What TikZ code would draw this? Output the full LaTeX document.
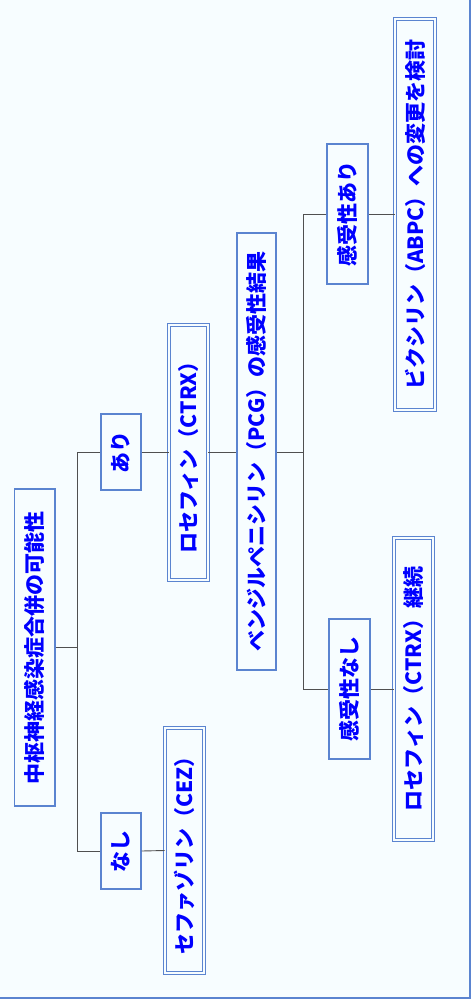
\documentclass[tikz,border=0pt]{standalone}
\usepackage{graphicx}
\usepackage{fontspec}
\setmainfont{Noto Sans CJK JP}
\definecolor{bg}{RGB}{247,253,255}
\definecolor{boxblue}{RGB}{91,132,208}
\definecolor{txtblue}{RGB}{0,0,255}
\definecolor{linegray}{RGB}{80,80,80}
\begin{document}
\begin{tikzpicture}[x=1pt,y=-1pt,
  box/.style={draw=boxblue, line width=1.1pt, fill=bg, inner sep=0pt, text=txtblue,
    font=\bfseries\fontsize{21}{25}\selectfont},
  dbox/.style={box, double=bg, double distance=2pt, line width=0.9pt},
  conn/.style={draw=linegray, line width=0.9pt}]
\useasboundingbox (0,0) rectangle (472,1001);
\fill[white] (0,0) rectangle (472,1001);
\fill[bg] (-10,-10) rectangle (470,998);
\draw[boxblue, line width=2pt] (-10,-10) rectangle (470,998);

\node[box, minimum width=40.5pt, minimum height=317pt] (root) at (34.75,647.5) {\rotatebox{90}{中枢神経感染症合併の可能性}};
\node[box, minimum width=40pt, minimum height=76pt] (nasi) at (121,851) {\rotatebox{90}{なし}};
\node[dbox, minimum width=39pt, minimum height=245pt] (cez) at (184.5,850.5) {\rotatebox{90}{セファゾリン（CEZ）}};
\node[box, minimum width=40pt, minimum height=76pt] (ari) at (121,452) {\rotatebox{90}{あり}};
\node[dbox, minimum width=39pt, minimum height=255pt] (ctrx) at (188.5,452.5) {\rotatebox{90}{ロセフィン（CTRX）}};
\node[box, minimum width=39pt, minimum height=437pt] (pcg) at (256.5,451.5) {\rotatebox{90}{ベンジルペニシリン（PCG）の感受性結果}};
\node[box, minimum width=41pt, minimum height=140pt] (knasi) at (349.5,689) {\rotatebox{90}{感受性なし}};
\node[dbox, minimum width=39pt, minimum height=302pt] (cont) at (413.5,689) {\rotatebox{90}{ロセフィン（CTRX）継続}};
\node[box, minimum width=41pt, minimum height=140pt] (kari) at (347.5,214) {\rotatebox{90}{感受性あり}};
\node[dbox, minimum width=40pt, minimum height=391pt] (abpc) at (415,214.5) {\rotatebox{90}{ビクシリン（ABPC）への変更を検討}};

\coordinate (j1t) at (77,452);
\coordinate (j1b) at (77,851);
\coordinate (j2t) at (303,214);
\coordinate (j2b) at (303,689);

\draw[conn] (j1t) -- (j1b);
\draw[conn] (root.east) -- (root.east -| j1t);
\draw[conn] (j1t) -- (ari.west);
\draw[conn] (j1b) -- (nasi.west);
\draw[conn] (nasi.east) -- (cez.west);
\draw[conn] (ari.east) -- (ari.east -| ctrx.west);
\draw[conn] (ari.east -| ctrx.east) -- (ari.east -| pcg.west);
\draw[conn] (pcg.east |- j1t) -- (j1t -| j2t);
\draw[conn] (j2t) -- (j2b);
\draw[conn] (j2t) -- (kari.west);
\draw[conn] (j2b) -- (knasi.west);
\draw[conn] (kari.east) -- (kari.east -| abpc.west);
\draw[conn] (knasi.east) -- (cont.west);
\end{tikzpicture}
\end{document}
